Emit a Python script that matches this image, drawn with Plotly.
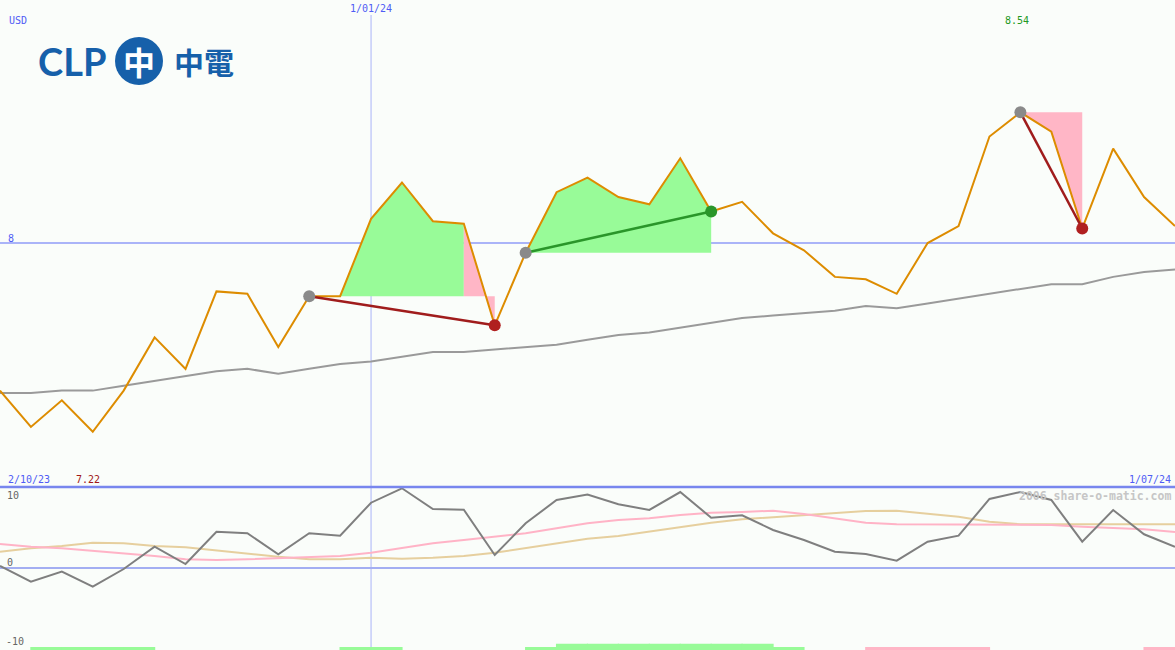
import plotly.graph_objects as go

W, H = 1175, 650

# ---------------- data ----------------
week_idx = list(range(39))
edge_labels = ["2/10/23", "1/01/24", "1/07/24"]
marker_week = 12  # 1/01/24

price = [7.39, 7.24, 7.35, 7.22, 7.39, 7.61, 7.48, 7.80, 7.79, 7.57,
         7.78, 7.78, 8.10, 8.25, 8.09, 8.08, 7.66, 7.96, 8.21, 8.27,
         8.19, 8.16, 8.35, 8.13, 8.17, 8.04, 7.97, 7.86, 7.85, 7.79,
         8.00, 8.07, 8.44, 8.54, 8.46, 8.06, 8.39, 8.19, 8.07]

avg_price = [7.38, 7.38, 7.39, 7.39, 7.41, 7.43, 7.45, 7.47, 7.48, 7.46,
             7.48, 7.50, 7.51, 7.53, 7.55, 7.55, 7.56, 7.57, 7.58, 7.60,
             7.62, 7.63, 7.65, 7.67, 7.69, 7.70, 7.71, 7.72, 7.74, 7.73,
             7.75, 7.77, 7.79, 7.81, 7.83, 7.83, 7.86, 7.88, 7.89]

osc = [0.26, -1.76, -0.47, -2.40, -0.13, 2.73, 0.51, 4.65, 4.45, 1.76,
       4.45, 4.14, 8.37, 10.22, 7.56, 7.47, 1.67, 5.73, 8.72, 9.42,
       8.17, 7.44, 9.74, 6.45, 6.76, 4.87, 3.59, 2.09, 1.79, 0.94,
       3.37, 4.14, 8.85, 9.74, 8.72, 3.37, 7.44, 4.32, 2.73]

osc_pink = [3.08, 2.73, 2.53, 2.22, 1.88, 1.54, 1.12, 1.03, 1.12, 1.24,
            1.37, 1.54, 1.96, 2.53, 3.17, 3.59, 4.01, 4.45, 5.09, 5.73,
            6.15, 6.37, 6.79, 7.09, 7.18, 7.35, 6.92, 6.37, 5.81, 5.60,
            5.60, 5.60, 5.60, 5.60, 5.51, 5.29, 5.17, 4.96, 4.62]

osc_tan = [2.09, 2.53, 2.82, 3.24, 3.17, 2.82, 2.65, 2.22, 1.88, 1.45,
           1.12, 1.12, 1.32, 1.19, 1.32, 1.54, 1.96, 2.53, 3.17, 3.76,
           4.10, 4.65, 5.22, 5.81, 6.24, 6.50, 6.79, 7.09, 7.31, 7.35,
           7.01, 6.58, 5.94, 5.60, 5.60, 5.60, 5.60, 5.60, 5.60]

# signal per weekly interval: 1 = buy, 2 = strong buy, -1 = sell, 0 = none
signal = [0, 1, 1, 1, 1, 0, 0, 0, 0, 0,
          0, 1, 1, 0, 0, 0, 0, 1, 2, 2,
          2, 2, 2, 2, 2, 1, 0, 0, -1, -1,
          -1, -1, 0, 0, 0, 0, 0, -1]

trade_entry = [10, 17, 33]
trade_exit = [16, 23, 35]
trade_win = [False, True, False]
# fill segments: (start, end, entry-index used as base, win?)
fill_start = [10, 15, 17, 33]
fill_end = [15, 16, 23, 35]
fill_base = [10, 10, 17, 33]
fill_win = [True, False, True, False]

ref_level = 8
osc_levels = [10, 0, -10]

# ---------------- styles ----------------
BG = "#fafdfa"
BLUE_TXT = "#4f5cf5"
GRID = "#aab4f8"
GREEN_FILL = "#98fb98"
PINK_FILL = "#ffb6c6"
ORANGE = "#dd8c00"
MONO = "DejaVu Sans Mono"

price_range = [8 - 244 / 242, 8 + 243 / 242]
osc_range = [(568 - 650) / 7.8, (568 - 487) / 7.8]
split = 163 / H

fig = go.Figure()

# fills
for s, e, b, win in zip(fill_start, fill_end, fill_base, fill_win):
    xs = list(week_idx[s:e + 1]) + [week_idx[e], week_idx[s]]
    ys = list(price[s:e + 1]) + [price[b], price[b]]
    fig.add_trace(go.Scatter(x=xs, y=ys, fill="toself", mode="none",
                             fillcolor=GREEN_FILL if win else PINK_FILL,
                             hoverinfo="skip", yaxis="y"))

# moving average
fig.add_trace(go.Scatter(x=week_idx, y=avg_price, mode="lines",
                         line=dict(color="#9a9a9a", width=2), yaxis="y"))
# price
fig.add_trace(go.Scatter(x=week_idx, y=price, mode="lines",
                         line=dict(color=ORANGE, width=2), yaxis="y"))

# trade lines
for en, ex, win in zip(trade_entry, trade_exit, trade_win):
    fig.add_trace(go.Scatter(x=[week_idx[en], week_idx[ex]], y=[price[en], price[ex]],
                             mode="lines",
                             line=dict(color="#2a962a" if win else "#a01c1c", width=2.5),
                             yaxis="y"))
# markers
fig.add_trace(go.Scatter(x=[week_idx[i] for i in trade_entry], y=[price[i] for i in trade_entry],
                         mode="markers", marker=dict(color="#8a8a8a", size=12), yaxis="y"))
fig.add_trace(go.Scatter(x=[week_idx[i] for i in trade_exit],
                         y=[price[i] for i in trade_exit], mode="markers",
                         marker=dict(color=["#2a962a" if w else "#b02020" for w in trade_win], size=12),
                         yaxis="y"))

# oscillator panel
fig.add_trace(go.Scatter(x=week_idx, y=osc_tan, mode="lines",
                         line=dict(color="#e6cf9e", width=2), yaxis="y2"))
fig.add_trace(go.Scatter(x=week_idx, y=osc_pink, mode="lines",
                         line=dict(color="#ffb3c6", width=2), yaxis="y2"))
fig.add_trace(go.Scatter(x=week_idx, y=osc, mode="lines",
                         line=dict(color="#7f7f7f", width=2), yaxis="y2"))

# signal bars
bar_x = [week_idx[k] + 0.5 for k in range(len(signal))]
bar_h = [(0.8 if abs(s) == 2 else 0.4) if s != 0 else 0 for s in signal]
bar_c = [GREEN_FILL if s > 0 else PINK_FILL for s in signal]
fig.add_trace(go.Bar(x=bar_x, y=bar_h, base=osc_range[0], width=1.04,
                     marker=dict(color=bar_c, line=dict(width=0)), yaxis="y2"))

shapes = [
    dict(type="line", xref="x", yref="paper", x0=marker_week, x1=marker_week,
         y0=0, y1=1 - 15 / H, line=dict(color=GRID, width=1), layer="below"),
    dict(type="line", xref="paper", yref="y", x0=0, x1=1, y0=ref_level, y1=ref_level,
         line=dict(color=GRID, width=2), layer="below"),
    dict(type="line", xref="paper", yref="y2", x0=0, x1=1, y0=osc_levels[1], y1=osc_levels[1],
         line=dict(color="#a3aef2", width=2), layer="below"),
    dict(type="line", xref="paper", yref="y2 domain", x0=0, x1=1, y0=1, y1=1,
         line=dict(color="#7886ee", width=2.5), layer="above"),
    # logo roundel
    dict(type="circle", xref="paper", yref="paper",
         x0=115 / W, x1=163 / W, y0=1 - 85 / H, y1=1 - 37 / H,
         fillcolor="#1660aa", line=dict(width=0)),
]

def ann(text, x, y, color, size=10, xanchor="center", xref="paper", family=MONO, bold=False):
    return dict(text=("<b>%s</b>" % text) if bold else text, x=x, y=y, xref=xref, yref="paper",
                showarrow=False, xanchor=xanchor, yanchor="middle",
                font=dict(family=family, size=size, color=color))

imax = price.index(max(price))
imin = price.index(min(price))
annotations = [
    ann("USD", 7 / W, 1 - 20 / H, BLUE_TXT, xanchor="left"),
    ann(edge_labels[1], marker_week, 1 - 9 / H, BLUE_TXT, xref="x"),
    ann("%.2f" % max(price), week_idx[imax] - 0.12, 1 - 20 / H, "#229922", xref="x"),
    ann(str(ref_level), 6 / W, 1 - 238 / H, BLUE_TXT, xanchor="left"),
    ann(edge_labels[0], 6 / W, 1 - 479 / H, BLUE_TXT, xanchor="left"),
    ann("%.2f" % min(price), week_idx[imin] - 0.15, 1 - 479 / H, "#a01818", xref="x"),
    ann(edge_labels[2], 1 - 2 / W, 1 - 479 / H, BLUE_TXT, xanchor="right"),
    ann(str(osc_levels[0]), 5 / W, 1 - 495 / H, "#666666", xanchor="left"),
    ann(str(osc_levels[1]), 5 / W, 1 - 562 / H, "#666666", xanchor="left"),
    ann(str(osc_levels[2]), 4 / W, 1 - 641 / H, "#666666", xanchor="left"),
    ann("2006 share-o-matic.com", 1 - 2 / W, 1 - 496 / H, "#c6c6c6", size=11.5,
        xanchor="right", bold=True),
    # logo text
    ann("CLP", 72 / W, 1 - 61 / H, "#1660aa", size=38, family="Lato", bold=True),
    ann("中", 139 / W, 1 - 61 / H, "#ffffff", size=32, family="Noto Sans CJK TC", bold=True),
    ann("中電", 204 / W, 1 - 61 / H, "#1660aa", size=30, family="Noto Sans CJK TC", bold=True),
]

fig.update_layout(
    width=W, height=H,
    margin=dict(l=0, r=0, t=0, b=0),
    paper_bgcolor=BG, plot_bgcolor=BG,
    showlegend=False,
    barmode="overlay",
    xaxis=dict(range=[0, 38], visible=False, showgrid=False, zeroline=False),
    yaxis=dict(domain=[split, 1], range=price_range, visible=False, showgrid=False, zeroline=False),
    yaxis2=dict(domain=[0, split], range=osc_range, visible=False, showgrid=False, zeroline=False),
    shapes=shapes,
    annotations=annotations,
)

fig.write_html("out.html", config={"displayModeBar": False},
               post_script="document.body.style.margin='0';")
